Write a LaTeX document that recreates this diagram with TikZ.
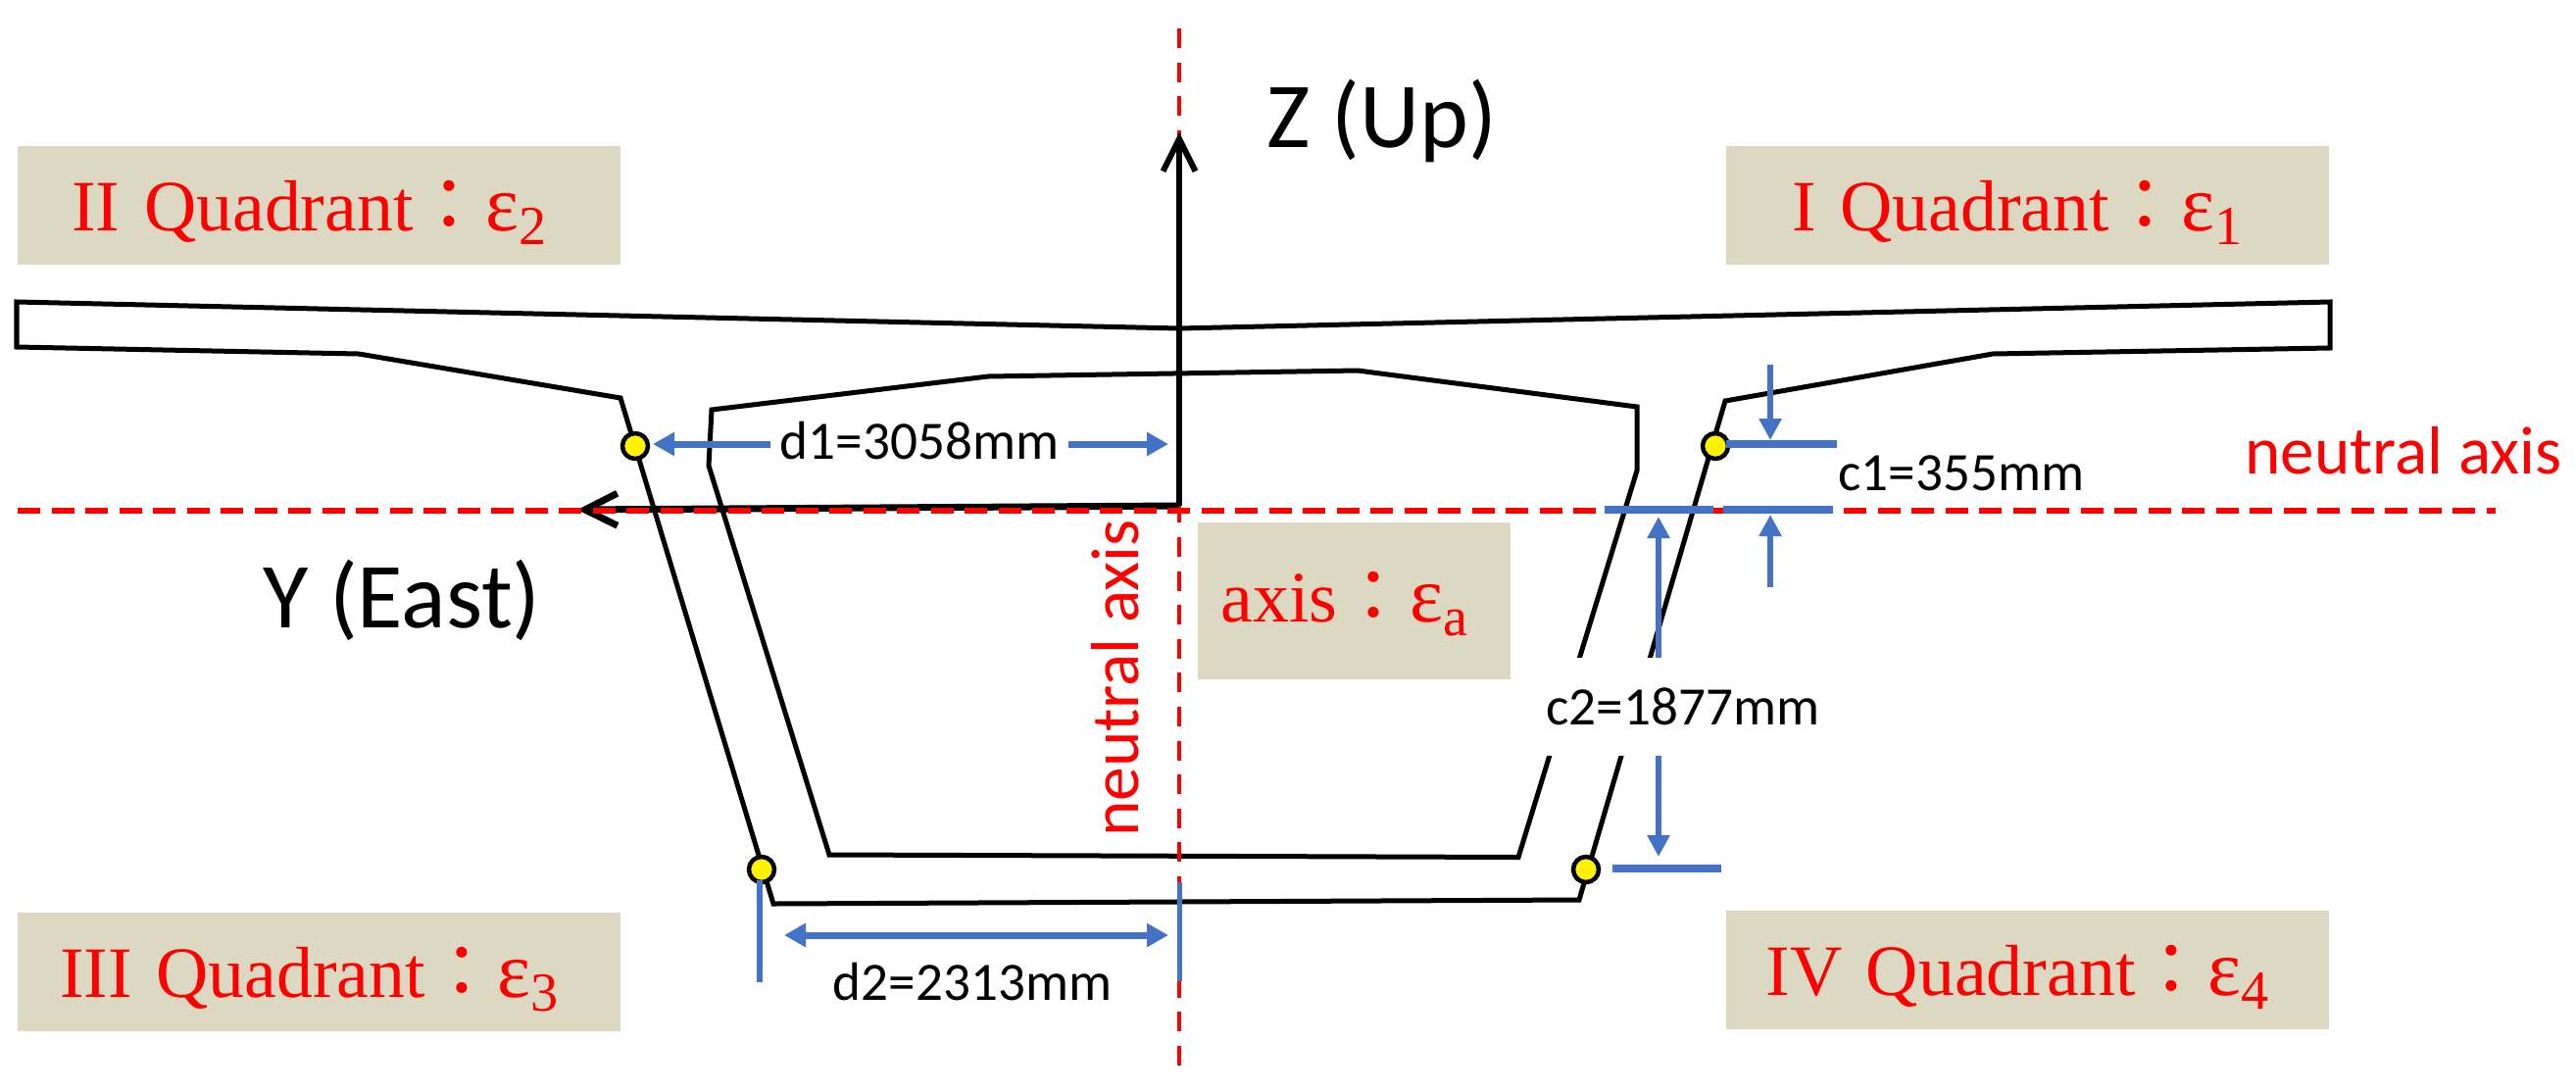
\documentclass[tikz,border=0pt]{standalone}
\usepackage{fontspec}
\setmainfont{Liberation Serif}
\setsansfont{Carlito}
\newfontfamily\cjk{Noto Sans CJK TC}
\usetikzlibrary{arrows.meta}
\definecolor{dimblue}{HTML}{4472C4}
\definecolor{boxtan}{HTML}{DDD8C2}
\newcommand{\strain}[1]{{\cjk：}\fontsize{23}{24}\selectfont ε\raisebox{-0.18em}{\fontsize{16}{18}\selectfont #1}\kern0.2cm}
\tikzset{
	quadbox/.style={fill=boxtan, text=red, inner sep=0, text width=6.15cm, align=center, text height=0.86cm, text depth=0.35cm, font=\fontsize{21}{24}\selectfont},
	section/.style={line width=0.05cm, line join=miter},
	axisline/.style={line width=0.06cm, -{Straight Barb[length=0.33cm,width=0.33cm]}},
	redaxis/.style={line width=0.045cm, color=red, dash pattern=on 0.2cm off 0.146cm},
	dimline/.style={line width=0.075cm, color=dimblue},
	dimarrow/.style={line width=0.055cm, color=dimblue, -{Triangle[length=0.22cm,width=0.22cm]}},
	dimboth/.style={line width=0.07cm, color=dimblue, {Triangle[length=0.22cm,width=0.23cm]}-{Triangle[length=0.22cm,width=0.23cm]}},
	strainpoint/.style={circle, draw=black, fill=yellow, line width=0.045cm, minimum size=0.26cm, inner sep=0},
	dimlabel/.style={anchor=base, inner sep=0, font=\sffamily\fontsize{15.7}{18}\selectfont},
	axislabel/.style={anchor=base, inner sep=0, font=\sffamily\fontsize{27}{30}\selectfont},
	redlabel/.style={anchor=base, inner sep=0, text=red, font=\sffamily\fontsize{19.7}{23}\selectfont}
}
\begin{document}
\begin{tikzpicture}
	%%%%% START %%%%%
	\useasboundingbox (0, 0) rectangle (26.28, 11.13);
	
	\node[quadbox] (boxII) at (3.255, 9.035) {II Quadrant\strain{2}};
	\node[quadbox] (boxI) at (20.68, 9.035) {I Quadrant\strain{1}};
	\node[quadbox] (boxIII) at (3.255, 1.215) {III Quadrant\strain{3}};
	\node[quadbox] (boxIV) at (20.68, 1.235) {IV Quadrant\strain{4}};
	\node[quadbox, text width=3.19cm, text height=1.01cm, text depth=0.59cm] (boxaxis) at (13.815, 5.00) {axis\strain{a}};
	
	\draw[section] (0.17, 8.05) -- (12.03, 7.78) -- (23.77, 8.05) -- (23.77, 7.58) -- (20.33, 7.52) -- (17.60, 7.04) -- (16.11, 1.95) -- (7.89, 1.91) -- (6.33, 7.07) -- (3.66, 7.52) -- (0.17, 7.59) -- cycle;
	\draw[section] (7.26, 6.95) -- (10.08, 7.29) -- (13.85, 7.35) -- (16.70, 6.98) -- (16.70, 6.33) -- (15.49, 2.385) -- (8.46, 2.41) -- (7.23, 6.38) -- cycle;
	
	\coordinate (origin) at (12.03, 5.97);
	\coordinate (ztip) at (12.03, 9.78);
	\coordinate (ytip) at (5.89, 5.93);
	\coordinate (vtop) at (12.03, 10.84);
	\coordinate (vbottom) at (12.03, 0.19);
	\coordinate (hleft) at (0.18, 5.92);
	\coordinate (hright) at (25.46, 5.92);
	
	\draw[redaxis] (vtop) -- (vbottom);
	\draw[axisline] (origin) -- (ztip);
	\draw[axisline, line width=0.07cm] (origin) -- (ytip);
	\draw[redaxis, line width=0.055cm, dash pattern=on 0.23cm off 0.115cm] (hleft) -- (hright);
	
	\node[strainpoint] (pointII) at (6.48, 6.58) {};
	\node[strainpoint] (pointIII) at (7.77, 2.26) {};
	\node[strainpoint] (pointIV) at (16.18, 2.26) {};
	\node[strainpoint] (pointI) at (17.50, 6.58) {};
	
	\draw[dimboth] (6.66, 6.60) -- (11.92, 6.60);
	\draw[dimboth] (8.00, 1.59) -- (11.92, 1.59);
	\draw[dimline, line width=0.055cm] (7.75, 2.15) -- (7.75, 1.11);
	\draw[dimline, line width=0.05cm] (12.03, 2.13) -- (12.03, 1.12);
	
	\draw[dimarrow] (18.06, 7.41) -- (18.06, 6.64);
	\draw[dimarrow] (18.06, 5.14) -- (18.06, 5.88);
	\draw[dimline] (17.61, 6.60) -- (18.74, 6.60);
	\draw[dimline] (16.37, 5.93) -- (17.48, 5.93);
	\draw[dimline] (17.58, 5.93) -- (18.70, 5.93);
	\draw[dimarrow, {Triangle[length=0.22cm,width=0.22cm]}-{Triangle[length=0.22cm,width=0.22cm]}] (16.92, 5.86) -- (16.92, 2.39);
	\draw[dimline] (16.45, 2.27) -- (17.56, 2.27);
	
	\node[dimlabel, fill=white, inner xsep=0.1cm] (dI) at (9.38, 6.45) {d1=3058mm};
	\node[dimlabel] (dII) at (9.92, 0.93) {d2=2313mm};
	\node[dimlabel] (cI) at (20.01, 6.13) {c1=355mm};
	\node[dimlabel, fill=white, text height=0.68cm, text depth=0.32cm] (cII) at (17.17, 3.74) {c2=1877mm};
	
	\node[axislabel] (zlabel) at (14.10, 9.63) {Z (Up)};
	\node[axislabel] (ylabel) at (4.10, 4.73) {Y (East)};
	\node[redlabel] (neutralh) at (24.52, 6.30) {neutral axis};
	\node[redlabel, rotate=90] (neutralv) at (11.61, 4.21) {neutral axis};
	%%%%% END %%%%%
\end{tikzpicture}
\end{document}
